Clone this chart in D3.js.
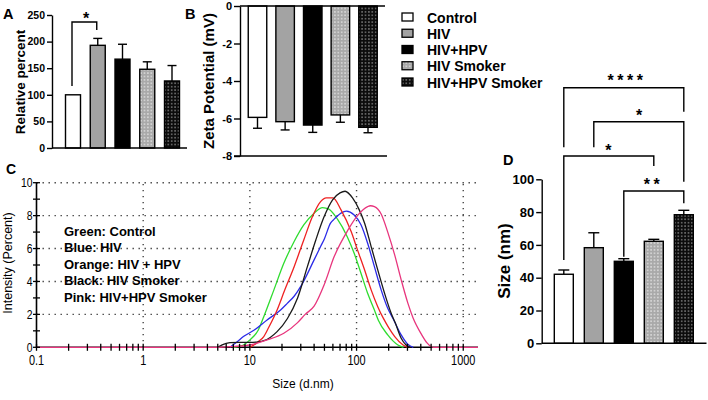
<!DOCTYPE html>
<html><head><meta charset="utf-8">
<script src="https://cdn.jsdelivr.net/npm/d3@7"></script>
<style>
body{margin:0;background:#fff}
svg{display:block}
text{font-family:"Liberation Sans",Arial,sans-serif;fill:#000}
.b{font-weight:bold}
.n{font-weight:normal}
</style></head><body>
<svg id="c" width="708" height="400"></svg>
<script>
// ---------- data ----------
const groups = ["Control", "HIV", "HIV+HPV", "HIV Smoker", "HIV+HPV Smoker"];
const relPercent = [100, 193, 167, 148, 126];
const relPercentErr = [0, 13, 28, 14, 29];
const zeta = [-5.94, -6.17, -6.35, -5.81, -6.47];
const zetaErr = [0.58, 0.44, 0.39, 0.39, 0.29];
const sizeNm = [42.1, 58.3, 50.0, 62.2, 78.4];
const sizeErr = [2.6, 9.1, 1.6, 1.2, 2.7];
const ticksA = [0, 50, 100, 150, 200, 250];
const ticksB = [0, -2, -4, -6, -8];
const ticksD = [0, 20, 40, 60, 80, 100];
const ticksCy = [0, 2, 4, 6, 8, 10];
const ticksCx = [0.1, 1, 10, 100, 1000];
const dlsNames = ["Green: Control", "Blue: HIV", "Orange: HIV + HPV", "Black: HIV  Smoker", "Pink: HIV+HPV Smoker"];
// DLS intensity distributions [size d.nm, intensity %]
const dlsGreen = [[7,0],[8,0.05],[9,0.2],[10,0.45],[12,1.05],[13.5,1.86],[16.8,3.49],[20.8,5.1],[26,6.43],[32,7.44],[40,8.15],[48,8.49],[55,8.39],[66,7.8],[82,6.7],[95,5.71],[110,4.5],[127,3.28],[147,2.27],[160,1.65],[196,0.75],[244,0.14],[275,0]];
const dlsRed = [[10,0],[11,0.15],[12,0.35],[13.5,0.65],[15,1.2],[18,2.27],[21,3.4],[26,4.9],[32,6.52],[38.6,7.94],[46,8.85],[52,9.08],[60,9.08],[71.5,8.35],[89,7.03],[102,5.92],[119,4.7],[137,3.49],[158,2.47],[177,1.8],[200,1.2],[228,0.65],[273,0.14],[300,0]];
const dlsBlue = [[6.5,0],[7.5,0.3],[8.7,0.65],[11,1.05],[14.5,1.66],[19.4,2.27],[22.4,2.67],[26,3.1],[30,3.7],[40,5.31],[46,6.12],[50,6.6],[57,7.54],[62,7.8],[71.5,8.15],[80,8.27],[95,8.04],[110,7.44],[127,6.32],[147,4.9],[170,3.49],[196,2.37],[219,1.76],[262,0.75],[300,0.2],[340,0]];
const dlsBlack = [[5,0],[5.5,0.15],[6.5,0.28],[8,0.3],[10,0.3],[12,0.33],[13.5,0.4],[15.5,0.6],[18,0.95],[22.5,1.75],[28,3.0],[34.6,4.9],[41.5,6.52],[49.7,7.94],[59.6,8.96],[70,9.38],[78,9.48],[92,9.06],[106,8.35],[119,7.54],[137,6.12],[158,4.7],[183,3.28],[211,2.07],[230,1.5],[262,0.55],[290,0.15],[320,0]];
const dlsPink = [[0.1,0],[5,0],[7,0.05],[10,0.14],[14.5,0.45],[20.8,0.85],[28,1.5],[33,2.0],[40,2.5],[49.7,3.8],[61.7,5.51],[82.6,7.1],[102,8.0],[127,8.55],[135,8.6],[147,8.55],[170,8.1],[196,7.0],[228,5.6],[262,4.1],[302,2.7],[338,1.8],[405,0.8],[460,0.25],[524,0],[1375,0]];

// ---------- setup ----------
const svg = d3.select("#c");
const defs = svg.append("defs");
function dotPattern(id, bg, dot) {
  const p = defs.append("pattern").attr("id", id).attr("patternUnits", "userSpaceOnUse")
    .attr("width", 3.4).attr("height", 3.4);
  p.append("rect").attr("width", 3.4).attr("height", 3.4).attr("fill", bg);
  p.append("rect").attr("x", 1).attr("y", 1).attr("width", 1.4).attr("height", 1.4).attr("fill", dot);
}
dotPattern("pLight", "#a9a9a9", "#e4e4e4");
dotPattern("pDark", "#0c0c0c", "#8a8a8a");
const fills = ["#ffffff", "#a3a3a3", "#000000", "url(#pLight)", "url(#pDark)"];

function styleAxis(g, cls, size) {
  g.select(".domain").attr("stroke", "#000").attr("stroke-width", 1.4);
  g.selectAll(".tick line").attr("stroke", "#000").attr("stroke-width", 1.4);
  g.selectAll(".tick text").attr("class", cls).style("font-size", size + "px")
    .style("font-family", null).attr("fill", "#000");
}
function label(txt, x, y, size, opts = {}) {
  return svg.append("text").attr("x", x).attr("y", y).attr("class", opts.cls ?? "b")
    .style("font-size", size + "px").attr("text-anchor", opts.anchor || "start")
    .attr("letter-spacing", opts.ls || null).text(txt);
}
function vlabel(txt, x, y, size, cls) {
  return svg.append("text").attr("transform", `translate(${x},${y}) rotate(-90)`)
    .attr("class", cls ?? "b").style("font-size", size + "px").attr("text-anchor", "middle").text(txt);
}
function bracket(d) {
  svg.append("path").attr("d", d).attr("fill", "none").attr("stroke", "#000").attr("stroke-width", 1.4);
}

// ---------- Panel A ----------
const xA = d3.scalePoint().domain(groups).range([73, 172]);
const yA = d3.scaleLinear().domain([0, 250]).range([148, 15]);
const bwA = 15;
const gA = svg.append("g");
groups.forEach((g, i) => {
  const v = relPercent[i], e = relPercentErr[i];
  if (e > 0) {
    gA.append("line").attr("x1", xA(g)).attr("x2", xA(g)).attr("y1", yA(v)).attr("y2", yA(v + e)).attr("stroke", "#000").attr("stroke-width", 1.4);
    gA.append("line").attr("x1", xA(g) - 4.5).attr("x2", xA(g) + 4.5).attr("y1", yA(v + e)).attr("y2", yA(v + e)).attr("stroke", "#000").attr("stroke-width", 1.4);
  }
  gA.append("rect").attr("x", xA(g) - bwA / 2).attr("width", bwA).attr("y", yA(v)).attr("height", yA(0) - yA(v))
    .attr("fill", fills[i]).attr("stroke", "#000").attr("stroke-width", 1.4);
});
const axA = svg.append("g").attr("transform", "translate(52,0)")
  .call(d3.axisLeft(yA).tickValues(ticksA).tickSize(5).tickSizeOuter(0).tickPadding(2));
styleAxis(axA, "b", 10.5);
svg.append("line").attr("x1", 52).attr("x2", 187).attr("y1", yA(0)).attr("y2", yA(0)).attr("stroke", "#000").attr("stroke-width", 1.4);
vlabel("Relative percent", 25, 82, 13.5);
label("A", 3, 18.5, 14.5);
bracket(`M${xA(groups[0]) - 1},86 V22 H${xA(groups[1]) - 1} V30`);
label("*", 86, 24, 16, {anchor: "middle"});

// ---------- Panel B ----------
const xB = d3.scalePoint().domain(groups).range([257.5, 368]);
const yB = d3.scaleLinear().domain([0, -8]).range([6, 156]);
const bwB = 18.5;
groups.forEach((g, i) => {
  const v = zeta[i], e = zetaErr[i];
  svg.append("line").attr("x1", xB(g)).attr("x2", xB(g)).attr("y1", yB(v)).attr("y2", yB(v - e)).attr("stroke", "#000").attr("stroke-width", 1.4);
  svg.append("line").attr("x1", xB(g) - 4.5).attr("x2", xB(g) + 4.5).attr("y1", yB(v - e)).attr("y2", yB(v - e)).attr("stroke", "#000").attr("stroke-width", 1.4);
  svg.append("rect").attr("x", xB(g) - bwB / 2).attr("width", bwB).attr("y", yB(0)).attr("height", yB(v) - yB(0))
    .attr("fill", fills[i]).attr("stroke", "#000").attr("stroke-width", 1.4);
});
const axB = svg.append("g").attr("transform", "translate(240,0)")
  .call(d3.axisLeft(yB).tickValues(ticksB).tickSize(6).tickSizeOuter(0).tickPadding(2).tickFormat(d => String(d)));
styleAxis(axB, "b", 11);
svg.append("line").attr("x1", 240).attr("x2", 385).attr("y1", yB(0)).attr("y2", yB(0)).attr("stroke", "#000").attr("stroke-width", 1.4);
svg.append("line").attr("x1", 234).attr("x2", 387).attr("y1", yB(-8)).attr("y2", yB(-8)).attr("stroke", "#000").attr("stroke-width", 1.4);
vlabel("Zeta Potential (mV)", 213.5, 81, 15);
label("B", 185, 18.5, 14.5);

// ---------- Legend ----------
const legY = d3.scalePoint().domain(groups).range([17, 82]);
groups.forEach((g, i) => {
  svg.append("rect").attr("x", 402).attr("y", legY(g) - 4).attr("width", 11).attr("height", 8)
    .attr("fill", fills[i]).attr("stroke", "#000").attr("stroke-width", 1.3);
  label(g, 427, legY(g) + 5.5, 14);
});

// ---------- Panel C ----------
const xC = d3.scaleLog().domain([0.1, 1375]).range([36.5, 478]);
const yC = d3.scaleLinear().domain([0, 10]).range([347.3, 182.7]);
const gC = svg.append("g");
// dotted grid
ticksCy.filter(d => d > 0).forEach(d => {
  gC.append("line").attr("x1", xC(0.1)).attr("x2", xC(1375)).attr("y1", yC(d)).attr("y2", yC(d))
    .attr("stroke", "#444").attr("stroke-width", 1.4).attr("stroke-dasharray", "1.4,4.6");
});
ticksCx.filter(d => d > 0.1).forEach(d => {
  gC.append("line").attr("x1", xC(d)).attr("x2", xC(d)).attr("y1", yC(0)).attr("y2", yC(10))
    .attr("stroke", "#444").attr("stroke-width", 1.4).attr("stroke-dasharray", "1.4,4.6");
});
// axes lines
gC.append("line").attr("x1", xC(0.1)).attr("x2", xC(1375)).attr("y1", yC(0)).attr("y2", yC(0)).attr("stroke", "#000").attr("stroke-width", 1.6);
gC.append("line").attr("x1", xC(0.1)).attr("x2", xC(0.1)).attr("y1", yC(0)).attr("y2", yC(10)).attr("stroke", "#000").attr("stroke-width", 1.6);
// curves
const line = d3.line().x(d => xC(d[0])).y(d => yC(d[1])).curve(d3.curveMonotoneX);
[[dlsGreen, "#2fdc2f"], [dlsBlue, "#2b2be8"], [dlsRed, "#ee2222"], [dlsBlack, "#1a1a1a"], [dlsPink, "#e8357d"]]
  .forEach(([data, col]) => {
    gC.append("path").attr("d", line(data)).attr("fill", "none").attr("stroke", col).attr("stroke-width", 1.3);
  });
// ticks
d3.range(0, 11).forEach(d => {
  gC.append("line").attr("x1", xC(0.1) - 3.5).attr("x2", xC(0.1) + 3.5).attr("y1", yC(d)).attr("y2", yC(d)).attr("stroke", "#000").attr("stroke-width", 1.3);
});
xC.ticks().filter(d => d <= 1375).forEach(d => {
  gC.append("line").attr("x1", xC(d)).attr("x2", xC(d)).attr("y1", yC(0) - 3.5).attr("y2", yC(0) + 3.5).attr("stroke", "#000").attr("stroke-width", 1.3);
});
ticksCy.forEach(d => {
  gC.append("text").attr("transform", `translate(${xC(0.1) - 4},${yC(d) + 4.5}) scale(0.8,1)`)
    .attr("text-anchor", "end").attr("class", "n").style("font-size", "13px").text(d);
});
ticksCx.forEach(d => {
  gC.append("text").attr("transform", `translate(${xC(d)},365) scale(0.78,1)`)
    .attr("text-anchor", "middle").attr("class", "n").style("font-size", "14px").text(String(d));
});
label("Size (d.nm)", 303, 388, 12, {cls: "n", anchor: "middle"});
vlabel("Intensity (Percent)", 12, 263, 12.5, "n");
label("C", 6, 173.5, 14);
const annY = d3.scalePoint().domain(dlsNames).range([235.5, 302]);
dlsNames.forEach(n => label(n, 64, annY(n), 13));

// ---------- Panel D ----------
const xD = d3.scalePoint().domain(groups).range([563.8, 683.8]);
const yD = d3.scaleLinear().domain([0, 100]).range([343.3, 179.3]);
const bwD = 19;
groups.forEach((g, i) => {
  const v = sizeNm[i], e = sizeErr[i];
  svg.append("line").attr("x1", xD(g)).attr("x2", xD(g)).attr("y1", yD(v)).attr("y2", yD(v + e)).attr("stroke", "#000").attr("stroke-width", 1.4);
  svg.append("line").attr("x1", xD(g) - 5.5).attr("x2", xD(g) + 5.5).attr("y1", yD(v + e)).attr("y2", yD(v + e)).attr("stroke", "#000").attr("stroke-width", 1.4);
  svg.append("rect").attr("x", xD(g) - bwD / 2).attr("width", bwD).attr("y", yD(v)).attr("height", yD(0) - yD(v))
    .attr("fill", fills[i]).attr("stroke", "#000").attr("stroke-width", 1.4);
});
const axD = svg.append("g").attr("transform", "translate(541.7,0)")
  .call(d3.axisLeft(yD).tickValues(ticksD).tickSize(5.5).tickSizeOuter(0).tickPadding(2));
styleAxis(axD, "b", 13);
svg.append("line").attr("x1", 541.7).attr("x2", 706.5).attr("y1", yD(0)).attr("y2", yD(0)).attr("stroke", "#000").attr("stroke-width", 1.4);
vlabel("Size (nm)", 510, 261, 17);
label("D", 503, 165, 14.5);
const cx = i => xD(groups[i]);
bracket(`M${cx(0)},147.3 V87.7 H${cx(4)} V111.7`);
bracket(`M${cx(1)},147.3 V121.7 H${cx(4)} V181.7`);
bracket(`M${cx(0)},260 V156 H${cx(3)} V166`);
bracket(`M${cx(2)},256.7 V191 H${cx(4)} V203.3`);
label("****", 627, 86, 16, {anchor: "middle", ls: "3.5px"});
label("*", 639, 121, 16, {anchor: "middle"});
label("*", 608.3, 155.5, 16, {anchor: "middle"});
label("**", 653.5, 189.5, 16, {anchor: "middle", ls: "3.5px"});
</script>
</body></html>
